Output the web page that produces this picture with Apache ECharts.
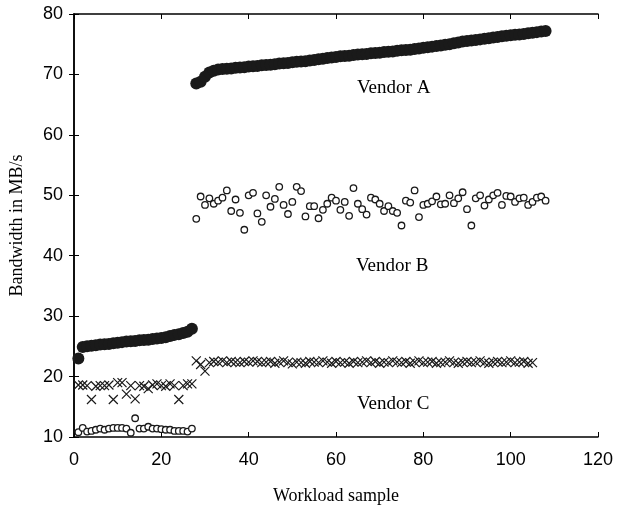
<!DOCTYPE html>
<html>
<head>
<meta charset="utf-8">
<script src="https://cdn.jsdelivr.net/npm/echarts@6/dist/echarts.min.js"></script>
<style>
  html, body { margin: 0; padding: 0; background: #fff; }
  #chart { width: 618px; height: 508px; }
</style>
</head>
<body>
<div id="chart"></div>
<script>
// Vendor A: x = 1..108
const vendorA = [
  23.0, 24.9, 25.0, 25.1, 25.2, 25.3, 25.35, 25.4, 25.5, 25.6,
  25.7, 25.8, 25.85, 25.9, 26.0, 26.05, 26.1, 26.2, 26.3, 26.4,
  26.5, 26.7, 26.9, 27.0, 27.2, 27.4, 27.9,
  68.5, 68.8, 69.6, 70.3, 70.6, 70.8, 70.9, 70.95,
  71.0, 71.1, 71.15, 71.2, 71.3, 71.35, 71.4, 71.5, 71.55, 71.6,
  71.7, 71.8, 71.85, 71.9, 72.0, 72.1, 72.15, 72.2, 72.3, 72.4,
  72.5, 72.6, 72.7, 72.8, 72.9, 73.0, 73.05, 73.1, 73.2, 73.3,
  73.35, 73.4, 73.5, 73.55, 73.6, 73.7, 73.75, 73.8, 73.9, 74.0,
  74.05, 74.1, 74.2, 74.3, 74.4, 74.5, 74.6, 74.7, 74.8, 74.9,
  75.0, 75.15, 75.3, 75.45, 75.55, 75.6, 75.7, 75.8, 75.9, 76.0,
  76.1, 76.2, 76.3, 76.4, 76.5, 76.55, 76.6, 76.7, 76.8, 76.9,
  77.0, 77.1, 77.2
]

// Vendor B: x = 1..108
const vendorB = [
  10.8, 11.5, 10.9, 11.0, 11.2, 11.4, 11.2, 11.4, 11.5, 11.5,
  11.5, 11.4, 10.7, 13.1, 11.4, 11.4, 11.7, 11.4, 11.4, 11.3,
  11.2, 11.2, 11.0, 11.0, 11.0, 10.9, 11.4,
  46.1, 49.8, 48.4, 49.5, 48.6, 49.1, 49.6, 50.8, 47.4, 49.3,
  47.1, 44.3, 50.0, 50.4, 47.0, 45.6, 50.0, 48.1, 49.4, 51.4,
  48.4, 46.9, 48.9, 51.4, 50.7, 46.5, 48.2, 48.2, 46.2, 47.6,
  48.6, 49.6, 49.1, 47.6, 48.9, 46.6, 51.2, 48.6, 47.7, 46.8,
  49.6, 49.3, 48.6, 47.4, 48.2, 47.4, 47.1, 45.0, 49.1, 48.8,
  50.8, 46.4, 48.4, 48.6, 49.0, 49.8, 48.5, 48.6, 50.0, 48.7,
  49.5, 50.5, 47.7, 45.0, 49.5, 50.0, 48.3, 49.3, 50.0, 50.4,
  48.4, 49.9, 49.8, 48.9, 49.5, 49.6, 48.4, 48.9, 49.6, 49.8,
  49.1
]

// Vendor C: x = 1..108
const vendorC = [
  18.6, 18.6, 18.5, 16.2, 18.4, 18.5, 18.5, 18.6, 16.2, 19.0,
  19.0, 17.1, 18.5, 16.3, 18.5, 18.4, 18.0, 18.6, 18.8, 18.5,
  18.4, 18.8, 18.5, 16.2, 18.5, 18.8, 18.8,
  22.6, 22.0, 20.9, 22.3, 22.5, 22.4, 22.6, 22.3, 22.5, 22.4,
  22.3, 22.5, 22.4, 22.6, 22.5, 22.3, 22.4, 22.5, 22.2, 22.4,
  22.6, 22.3, 22.1, 22.4, 22.3, 22.2, 22.5, 22.4, 22.3, 22.6,
  22.4, 22.2, 22.5, 22.3, 22.4, 22.2, 22.5, 22.3, 22.4, 22.6,
  22.3, 22.5, 22.2, 22.4, 22.3, 22.6, 22.4, 22.3, 22.5, 22.2,
  22.4, 22.6, 22.3, 22.4, 22.5, 22.2, 22.3, 22.4, 22.6, 22.3,
  22.2, 22.4, 22.5, 22.3, 22.4, 22.6, 22.3, 22.2, 22.4, 22.5,
  22.3, 22.4, 22.6, 22.3, 22.4, 22.5, 22.2, 22.3
]

const xTicks = [0, 20, 40, 60, 80, 100, 120]
const yTicks = [10, 20, 30, 40, 50, 60, 70, 80]

const ink = '#1a1a1a'
const serif = 'Liberation Serif, DejaVu Serif, serif'
const toPoints = (vals) => vals.map((v, i) => [i + 1, v])

const chart = echarts.init(document.getElementById('chart'))

const tickLabel = { color: '#000', fontSize: 18, fontFamily: 'Liberation Sans, Arial, sans-serif' }
const axisLine = { show: true, lineStyle: { color: '#000', width: 1.5 } }
const axisTick = { show: true, inside: true, length: 5, lineStyle: { color: '#000', width: 1 } }

chart.setOption({
  animation: false,
  backgroundColor: '#fff',
  grid: { left: 74, top: 14, right: 20, bottom: 71, containLabel: false, outerBoundsMode: 'none' },
  xAxis: [
    {
      type: 'value', min: xTicks[0], max: xTicks[xTicks.length - 1], interval: 20,
      name: 'Workload sample', nameLocation: 'middle', nameGap: 50,
      nameTextStyle: { color: '#000', fontSize: 18, fontFamily: serif },
      axisLine, axisTick, splitLine: { show: false },
      axisLabel: { ...tickLabel, margin: 14 }
    },
    {
      type: 'value', position: 'top', min: xTicks[0], max: xTicks[xTicks.length - 1], interval: 20,
      axisLine, axisTick, splitLine: { show: false }, axisLabel: { show: false }
    }
  ],
  yAxis: [
    {
      type: 'value', min: yTicks[0], max: yTicks[yTicks.length - 1], interval: 10,
      name: 'Bandwidth in MB/s', nameLocation: 'middle', nameGap: 48,
      nameTextStyle: { color: '#000', fontSize: 18, fontFamily: serif },
      axisLine, axisTick, splitLine: { show: false },
      axisLabel: { ...tickLabel, margin: 11 }
    },
    {
      type: 'value', position: 'right', min: yTicks[0], max: yTicks[yTicks.length - 1], interval: 10,
      axisLine, axisTick, splitLine: { show: false }, axisLabel: { show: false }
    }
  ],
  series: [
    {
      name: 'Vendor A', type: 'scatter', data: toPoints(vendorA),
      symbol: 'circle', symbolSize: 12,
      itemStyle: { color: ink, opacity: 1 }
    },
    {
      name: 'Vendor B', type: 'scatter', data: toPoints(vendorB),
      symbol: 'circle', symbolSize: 6.5,
      itemStyle: { color: '#fff', borderColor: ink, borderWidth: 1.3, opacity: 1 }
    },
    {
      name: 'Vendor C', type: 'scatter', data: toPoints(vendorC),
      symbol: 'path://M0,0L10,10M10,0L0,10', symbolSize: 9,
      itemStyle: { color: 'none', borderColor: ink, borderWidth: 1.2, opacity: 1 }
    }
  ],
  graphic: [
    { type: 'text', left: 357, top: 79, style: { text: 'Vendor A', fontSize: 19, fontFamily: serif, fill: '#000' } },
    { type: 'text', left: 356, top: 257, style: { text: 'Vendor B', fontSize: 19, fontFamily: serif, fill: '#000' } },
    { type: 'text', left: 357, top: 395, style: { text: 'Vendor C', fontSize: 19, fontFamily: serif, fill: '#000' } }
  ]
})
</script>
</body>
</html>
